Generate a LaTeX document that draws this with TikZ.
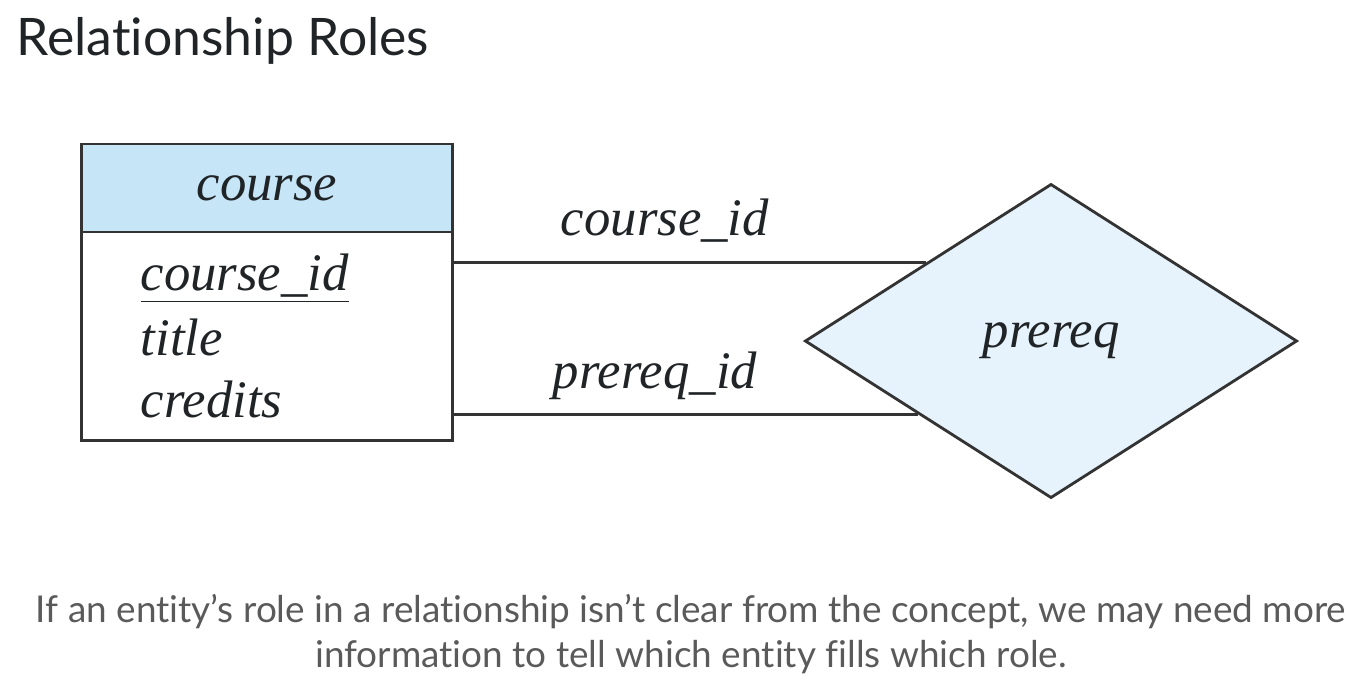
\documentclass[tikz,border=0pt]{standalone}
\usepackage{fontspec}
\setmainfont{Liberation Serif}
\newfontfamily\capfont[Ligatures=NoCommon]{Lato}
\usetikzlibrary{positioning,shapes.geometric}
\definecolor{hdrblue}{HTML}{C6E6F8}
\definecolor{relblue}{HTML}{E6F3FC}
\definecolor{inkgray}{HTML}{333333}
\definecolor{headink}{HTML}{202427}
\definecolor{capgray}{HTML}{5A5A5A}
\tikzset{
  erline/.style={draw=inkgray, line width=0.8pt},
  erfont/.style={font=\fontsize{15}{18}\selectfont\itshape, text=headink},
  enthead/.style={erline, erfont, fill=hdrblue, minimum width=3.7cm, minimum height=0.88cm, inner sep=0pt, outer sep=0pt},
  entbody/.style={erline, fill=white, minimum width=3.7cm, minimum height=2.08cm, inner sep=0pt, outer sep=0pt},
  attr/.style={erfont, anchor=base west, inner sep=0pt},
  relship/.style={erline, erfont, diamond, fill=relblue, minimum width=4.92cm, minimum height=3.14cm, inner sep=0pt},
  rolelabel/.style={erfont, anchor=base, inner sep=0pt},
  captext/.style={font=\capfont\fontsize{10.5}{12}\selectfont, text=capgray, anchor=base, inner sep=0pt},
}
\begin{document}
\begin{tikzpicture}[x=0.01cm, y=-0.01cm]
  \useasboundingbox (0,0) rectangle (1358,690);
  \node[font=\capfont\fontsize{14.7}{17}\selectfont, text=headink, anchor=base west, inner sep=0pt] (heading) at (16,55) {Relationship Roles};

  % entity set
  \node[enthead] (course) at (267,188) {course};
  \node[entbody, below=0pt of course] (attrs) {};
  \foreach \txt/\yy/\nm in {\underline{course\_id}/290/cid, title/355/ttl, credits/417/cred}
    \node[attr] (\nm) at (140,\yy) {\txt};

  % relationship set
  \node[relship] (prereq) at (1051,341) {prereq};

  % role lines
  \draw[erline] (prereq.148 -| attrs.east) -- (prereq.148);
  \draw[erline] (prereq.209 -| attrs.east) -- (prereq.209);
  \node[rolelabel] (role-cid) at (665,235) {course\_id};
  \node[rolelabel] (role-pid) at (655,388) {prereq\_id};

  \node[captext] (cap1) at (691,622) {If an entity’s role in a relationship isn’t clear from the concept, we may need more};
  \node[captext] (cap2) at (691,667) {information to tell which entity fills which role.};
\end{tikzpicture}
\end{document}
